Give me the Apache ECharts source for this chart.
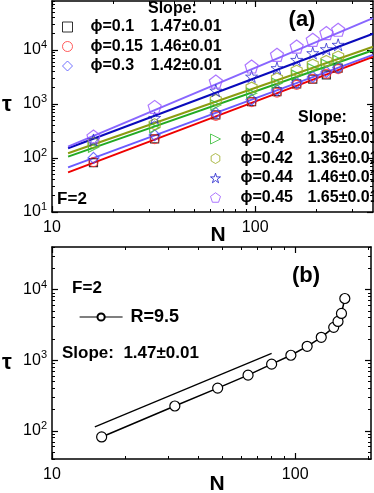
<!DOCTYPE html>
<html>
<head>
<meta charset="utf-8">
<script src="https://cdn.jsdelivr.net/npm/echarts@6/dist/echarts.min.js"></script>
<style>
html, body { margin: 0; padding: 0; background: #fff; }
#chart { width: 374px; height: 493px; }
</style>
</head>
<body>
<div id="chart"></div>
<script>
// panel (a): tau vs N for several phi, F=2
var nA = [16, 32, 64, 96, 128, 160, 192, 224, 256]
var tau01 = [82, 225, 625, 1100, 1690, 2340, 2870, 3440, 4580]
var tau015 = [84, 222, 600, 1080, 1620, 2250, 2900, 3600, 4400]
var tau03 = [100, 265, 680, 1200, 1800, 2450, 3150, 3900, 4700]
var tau04 = [158, 360, 950, 1580, 2400, 3400, 4500, 5400, 6400]
var tau042 = [190, 420, 1180, 2000, 2950, 4100, 5300, 6200, 7500]
var tau044 = [215, 551, 1760, 3200, 4590, 6530, 8690, 10300, 12400]
var tau045 = [250, 880, 2590, 4910, 8080, 11500, 15300, 20400, 23500]
var phiNames = ['ϕ=0.1', 'ϕ=0.15', 'ϕ=0.3', 'ϕ=0.4', 'ϕ=0.42', 'ϕ=0.44', 'ϕ=0.45']
var slopeText = ['1.47±0.01', '1.46±0.01', '1.42±0.01', '1.35±0.01', '1.36±0.01', '1.46±0.01', '1.65±0.01']

// fitted lines, end points read at N=12 and at the right edge
var fitN = [12, 380]
var fit015 = [54, 7420]
var fit03 = [67, 8070]
var fit04 = [106, 9800]
var fit042 = [122, 11370]
var fit044 = [151, 19800]
var fit045 = [162, 38600]

// panel (b): R=9.5
var nB = [16, 32, 48, 64, 80, 96, 112, 128, 144, 150, 155, 160]
var tauB = [82, 225, 403, 615, 880, 1175, 1573, 2109, 2917, 3540, 4590, 7470]
var guideN = [15, 80]
var guideTau = [114, 1250]

// axis ticks
var xMajA = [10, 100], xMinA = [20, 30, 40, 50, 60, 70, 80, 90, 200, 300]
var yMajA = [10, 100, 1000, 10000], yMinA = []
var xMajB = [10, 100], xMinB = [20, 30, 40, 50, 60, 70, 80, 90, 200]
var yMajB = [100, 1000, 10000], yMinB = []
for (var e = 1; e <= 4; e++) {
    for (var k = 2; k <= 9; k++) {
        yMinA.push(k * Math.pow(10, e))
        yMinB.push(k * Math.pow(10, e))
    }
}

var FONT = 'Liberation Sans, Arial, sans-serif'
var L = Math.log10

function zip(xs, ys) {
    return xs.map(function (x, i) { return [x, ys[i]] })
}

function xFmt(v) { return String(Math.round(Math.pow(10, v))) }
function yFmt(v) { return '{b|10}{s|' + Math.round(v) + '}' }

function tickAxes(grid, lo, hi, pos, majors, minors, labels, fmt) {
    var ext = { min: L(lo), max: L(hi) }
    var inRange = function (v) { return L(v) >= ext.min - 1e-9 && L(v) <= ext.max + 1e-9 }
    var maj = majors.filter(inRange).map(L)
    var mnr = minors.filter(inRange).map(L)
    var major = {
        type: 'value', gridIndex: grid, position: pos, min: ext.min, max: ext.max, silent: true,
        splitLine: { show: false },
        axisLine: { show: true, onZero: false, lineStyle: { color: '#000', width: 1.5 } },
        axisTick: { show: true, inside: true, length: 6, customValues: maj, lineStyle: { color: '#000', width: 1.2 } },
        axisLabel: labels ? {
            show: true, customValues: maj, formatter: fmt, color: '#000', fontFamily: FONT, fontSize: 16,
            margin: pos == 'bottom' ? 8 : 5,
            rich: {
                b: { fontSize: 16, fontFamily: FONT, color: '#000' },
                s: { fontSize: 11, fontFamily: FONT, color: '#000', padding: [0, 0, 10, 0] }
            }
        } : { show: false }
    }
    var minor = {
        type: 'value', gridIndex: grid, position: pos, min: ext.min, max: ext.max, silent: true,
        splitLine: { show: false },
        axisLine: { show: false, onZero: false },
        axisTick: { show: true, inside: true, length: 3, customValues: mnr, lineStyle: { color: '#000', width: 1 } },
        axisLabel: { show: false }
    }
    return [major, minor]
}

var xRangeA = [10, 380], yRangeA = [10, 80000]
var xRangeB = [10, 205], yRangeB = [40, 40000]

var xAxes = [
    { type: 'log', logBase: 10, gridIndex: 0, min: xRangeA[0], max: xRangeA[1], show: false },
    { type: 'log', logBase: 10, gridIndex: 1, min: xRangeB[0], max: xRangeB[1], show: false }
].concat(
    tickAxes(0, xRangeA[0], xRangeA[1], 'bottom', xMajA, xMinA, true, xFmt),
    tickAxes(0, xRangeA[0], xRangeA[1], 'top', xMajA, xMinA, false),
    tickAxes(1, xRangeB[0], xRangeB[1], 'bottom', xMajB, xMinB, true, xFmt),
    tickAxes(1, xRangeB[0], xRangeB[1], 'top', xMajB, xMinB, false)
)
var yAxes = [
    { type: 'log', logBase: 10, gridIndex: 0, min: yRangeA[0], max: yRangeA[1], show: false },
    { type: 'log', logBase: 10, gridIndex: 1, min: yRangeB[0], max: yRangeB[1], show: false }
].concat(
    tickAxes(0, yRangeA[0], yRangeA[1], 'left', yMajA, yMinA, true, yFmt),
    tickAxes(0, yRangeA[0], yRangeA[1], 'right', yMajA, yMinA, false),
    tickAxes(1, yRangeB[0], yRangeB[1], 'left', yMajB, yMinB, true, yFmt),
    tickAxes(1, yRangeB[0], yRangeB[1], 'right', yMajB, yMinB, false)
)

// path units about the marker size so the stroke is not scaled up
var PENT = 'path://M0,-5L4.755,-1.545L2.94,4.045L-2.94,4.045L-4.755,-1.545Z'
var STAR = 'path://M0,-6L1.347,-1.854L5.706,-1.854L2.178,0.708L3.528,4.854L0,2.292L-3.528,4.854L-2.178,0.708L-5.706,-1.854L-1.347,-1.854Z'
var HEX = 'path://M0,-5L4.33,-2.5L4.33,2.5L0,5L-4.33,2.5L-4.33,-2.5Z'
var TRI = 'path://M0,0L9,4.5L0,9Z'

function fitLine(ys, color) {
    return {
        type: 'line', xAxisIndex: 0, yAxisIndex: 0, data: zip(fitN, ys), symbol: 'none',
        lineStyle: { color: color, width: 2 }, silent: true, z: 2
    }
}
function points(name, ys, symbol, size, color, bw) {
    return {
        type: 'scatter', name: name, xAxisIndex: 0, yAxisIndex: 0, data: zip(nA, ys),
        symbol: symbol, symbolSize: size, z: 3,
        itemStyle: { color: 'none', borderColor: color, borderWidth: bw || 1.2 }
    }
}

var series = [
    fitLine(fit03, '#6b5bff'),
    fitLine(fit04, '#22aa22'),
    fitLine(fit042, '#8c9c10'),
    fitLine(fit044, '#0a0abb'),
    fitLine(fit045, '#8866ff'),
    fitLine(fit015, '#ee0000'),
    points(phiNames[0], tau01, 'rect', 8, '#000'),
    points(phiNames[1], tau015, 'circle', 9, '#ff3333'),
    points(phiNames[2], tau03, 'diamond', 11, '#4d4dff'),
    points(phiNames[3], tau04, TRI, 10, '#33bb33'),
    points(phiNames[4], tau042, HEX, 11, '#9aaa22'),
    points(phiNames[5], tau044, STAR, 12, '#1a1acc', 0.9),
    points(phiNames[6], tau045, PENT, 13, '#9955ff'),
    {
        type: 'line', xAxisIndex: 1, yAxisIndex: 1, data: zip(guideN, guideTau), symbol: 'none',
        lineStyle: { color: '#000', width: 1.2 }, silent: true
    },
    {
        type: 'line', name: 'R=9.5', xAxisIndex: 1, yAxisIndex: 1, data: zip(nB, tauB),
        symbol: 'circle', symbolSize: 10, showAllSymbol: true,
        lineStyle: { color: '#000', width: 1.5 },
        itemStyle: { color: '#fff', borderColor: '#000', borderWidth: 1.2 }
    }
]

function phiLegend(names, left, top, nameWidth, pad) {
    return {
        orient: 'vertical', left: left, top: top, itemWidth: 10, itemHeight: 10, itemGap: 3.5,
        selectedMode: false, data: names,
        itemStyle: { borderWidth: 1 },
        formatter: function (n) {
            return '{n|' + n + '}{v|' + slopeText[phiNames.indexOf(n)] + '}'
        },
        textStyle: {
            rich: {
                n: { width: nameWidth, padding: [0, 0, 0, pad], fontSize: 16, fontWeight: 'bold', lineHeight: 18, fontFamily: FONT, color: '#000' },
                v: { fontSize: 16, fontWeight: 'bold', lineHeight: 18, fontFamily: FONT, color: '#000' }
            }
        }
    }
}

function txt(s, x, y, size, align) {
    return {
        type: 'text', x: x, y: y, silent: true,
        style: { text: s, font: 'bold ' + size + 'px ' + FONT, fill: '#000', align: align || 'center', verticalAlign: 'middle' }
    }
}

var option = {
    animation: false,
    textStyle: { fontFamily: FONT },
    grid: [
        { left: 52, top: 1, width: 321, height: 211 },
        { left: 52, top: 247, width: 319, height: 212 }
    ],
    xAxis: xAxes,
    yAxis: yAxes,
    legend: [
        phiLegend(phiNames.slice(0, 3), 55, 14, 60, 13),
        phiLegend(phiNames.slice(3), 203, 126, 67, 15),
        {
            left: 74, top: 303, itemWidth: 43, itemHeight: 9, selectedMode: false, data: ['R=9.5'],
            lineStyle: { width: 1.2 },
            textStyle: { fontSize: 18, fontWeight: 'bold', fontFamily: FONT, color: '#000', padding: [0, 0, 0, 3] }
        }
    ],
    graphic: [
        txt('Slope:', 148, 9, 16, 'left'),
        txt('Slope:', 298, 118, 16, 'left'),
        txt('(a)', 302, 20, 22),
        txt('F=2', 72, 199, 17),
        txt('τ', 7, 105, 22),
        txt('N', 218, 235, 21),
        txt('(b)', 306, 276, 22),
        txt('F=2', 87, 288, 17),
        txt('Slope:  1.47±0.01', 62, 353, 17, 'left'),
        txt('τ', 7, 363, 22),
        txt('N', 217, 484, 21)
    ],
    series: series
}

var myChart = echarts.init(document.getElementById('chart'), null, { renderer: 'canvas' })
myChart.setOption(option)
</script>
</body>
</html>
